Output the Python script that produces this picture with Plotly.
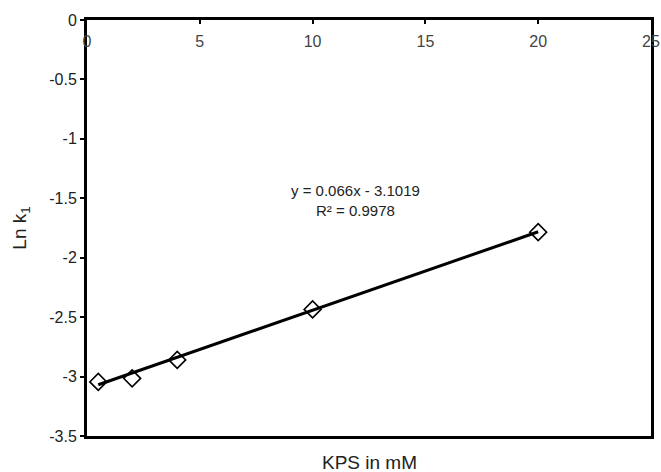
import plotly.graph_objects as go

kps = [0.5, 2, 4, 10, 20]
ln_k1 = [-3.045, -3.015, -2.86, -2.435, -1.785]
slope = 0.066
intercept = -3.1019
r2 = 0.9978
x_ticks = [0, 5, 10, 15, 20, 25]
y_ticks = [0, -0.5, -1, -1.5, -2, -2.5, -3, -3.5]
y_ticktext = ["0", "-0.5", "-1", "-1.5", "-2", "-2.5", "-3", "-3.5"]

fit_x = [min(kps), max(kps)]
fit_y = [slope * v + intercept for v in fit_x]

font = "Liberation Sans, Arial, sans-serif"

fig = go.Figure()
fig.add_trace(go.Scatter(x=fit_x, y=fit_y, mode="lines",
                         line=dict(color="black", width=3), showlegend=False))
fig.add_trace(go.Scatter(x=kps, y=ln_k1, mode="markers",
                         marker=dict(symbol="diamond-open", size=13,
                                     color="black", line=dict(width=1.6, color="black")),
                         showlegend=False))

fig.add_annotation(x=11.9, y=-1.515, xref="x", yref="y",
                   text=f"y = {slope}x - {abs(intercept)}<br>R² = {r2}",
                   showarrow=False, align="center",
                   font=dict(family=font, size=15, color="#222"))
fig.add_annotation(x=0.5, y=0, xref="paper", yref="paper", yanchor="middle",
                   xanchor="center", yshift=-26,
                   text="KPS in mM", showarrow=False,
                   font=dict(family=font, size=19, color="#222"))

fig.update_layout(
    width=661, height=472,
    margin=dict(l=87, r=10, t=20, b=36, autoexpand=False),
    paper_bgcolor="white", plot_bgcolor="white",
    font=dict(family=font, size=16, color="#222"),
    xaxis=dict(range=[0, 25], side="top", tickvals=x_ticks, automargin=False,
               ticks="inside", ticklen=4, tickwidth=1.5, tickcolor="black",
               ticklabelposition="inside", ticklabeloverflow="allow",
               ticklabelstandoff=12,
               showline=True, linecolor="black", linewidth=3, mirror=True,
               showgrid=False, zeroline=False),
    yaxis=dict(range=[-3.5, 0], tickvals=y_ticks, ticktext=y_ticktext, automargin=False,
               ticks="outside", ticklen=4, tickwidth=1.5, tickcolor="black",
               ticklabeloverflow="allow",
               showline=True, linecolor="black", linewidth=3, mirror=True,
               showgrid=False, zeroline=False,
               title=dict(text="Ln k<sub>1</sub>", standoff=18,
                          font=dict(family=font, size=19, color="#222"))),
)

fig.write_html("out.html")
